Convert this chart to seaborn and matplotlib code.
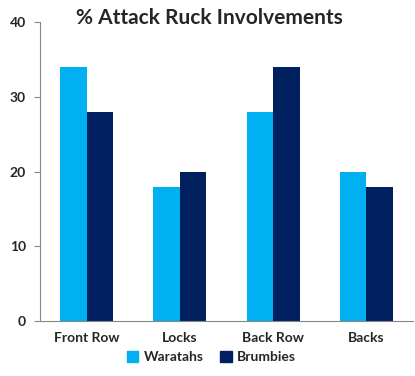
import matplotlib.pyplot as plt
import seaborn as sns
import numpy as np
import pandas as pd

categories = ['Front Row', 'Locks', 'Back Row', 'Backs']
waratahs = [34, 18, 28, 20]
brumbies = [28, 20, 34, 18]
teams = ['Waratahs', 'Brumbies']
colors = ['#00B0F0', '#002060']

df = pd.DataFrame({
    'position': categories * 2,
    'team': [teams[0]] * 4 + [teams[1]] * 4,
    'value': waratahs + brumbies,
})

sns.set_style('white')
plt.rcParams['font.family'] = ['Lato', 'DejaVu Sans']

fig = plt.figure(figsize=(4.15, 3.76), dpi=100)
ax = fig.add_axes([0.0964, 0.146, 0.899, 0.795])

sns.barplot(data=df, x='position', y='value', hue='team', palette=colors,
            width=0.57, gap=0, saturation=1, linewidth=0, ax=ax, legend=False)

ax.set_ylim(0, 40)
ax.set_xlim(-0.5, 3.5)
ax.set_yticks(np.arange(0, 41, 10))
ax.set_xlabel('')
ax.set_ylabel('')
for lab in ax.get_yticklabels() + ax.get_xticklabels():
    lab.set_fontweight('bold')
    lab.set_fontsize(10)
ax.tick_params(axis='x', which='major', length=0, pad=8)
ax.set_xticks(np.arange(-0.5, 4, 1), minor=True)
ax.tick_params(axis='x', which='minor', length=4, color='#868686', direction='out')
ax.tick_params(axis='y', length=4, color='#868686', direction='out', left=True, pad=6)

sns.despine(ax=ax, top=True, right=True)
ax.spines['left'].set_color('#868686')
ax.spines['bottom'].set_color('#868686')

fig.text(0.504, 0.952, '% Attack Ruck Involvements', ha='center', va='center',
         fontsize=15, fontweight='bold')

handles = [plt.Rectangle((0, 0), 1, 1, color=c) for c in colors]
fig.legend(handles, teams, loc='center', bbox_to_anchor=(0.51, 0.05), ncol=2,
           frameon=False, prop={'weight': 'bold', 'size': 10},
           handlelength=0.8, handleheight=0.8, handletextpad=0.4, columnspacing=1.2)

fig.savefig('out.png', dpi=100)
